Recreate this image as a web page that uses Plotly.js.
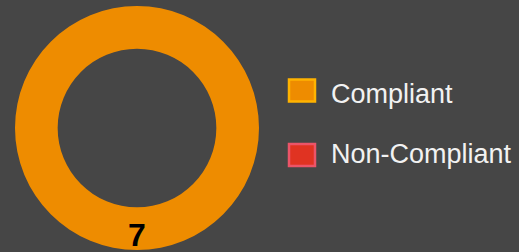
<!DOCTYPE html>
<html>
<head>
<meta charset="utf-8">
<script src="https://cdn.plot.ly/plotly-3.0.1.min.js"></script>
<style>
html,body{margin:0;padding:0;background:#464646;overflow:hidden;}
#chart{width:519px;height:252px;}
</style>
</head>
<body>
<div id="chart"></div>
<script>
const categories = ["Compliant", "Non-Compliant"];
const values = [7, 0];
const colors = ["#EE8C00", "#E03322"];
const borderColors = ["#FFB300", "#EC5468"];

const trace = {
  type: "pie",
  labels: categories,
  values: values,
  hole: 0.65,
  sort: false,
  direction: "clockwise",
  rotation: 0,
  marker: {colors: colors, line: {width: 0}},
  textinfo: "none",
  domain: {x: [15/519, 259/519], y: [2/252, 246/252]},
  showlegend: false,
  hoverinfo: "label+value"
};

const shapes = [];
const annotations = [];
const legendY = [90.5, 155];
categories.forEach((c, i) => {
  const cy = legendY[i];
  shapes.push({
    type: "rect", xref: "paper", yref: "paper",
    x0: 289/519, x1: 315/519,
    y0: 1 - (cy + 11)/252, y1: 1 - (cy - 11)/252,
    fillcolor: colors[i],
    line: {color: borderColors[i], width: 2.5}
  });
  annotations.push({
    xref: "paper", yref: "paper",
    x: 329/519, y: 1 - (i === 0 ? 93.5 : 153.5)/252,
    xanchor: "left", yanchor: "middle",
    text: c, showarrow: false,
    font: {family: "Liberation Sans, Arial, sans-serif", size: 27, color: "#F2F2F2"}
  });
});

// value label of the non-zero slice, at the bottom of the ring
values.forEach((v, i) => {
  if (v > 0 && v === values.reduce((a, b) => a + b, 0)) {
    annotations.push({
      xref: "paper", yref: "paper",
      x: 137/519, y: 1 - 235/252,
      xanchor: "center", yanchor: "middle",
      text: String(v), showarrow: false,
      font: {family: "Liberation Sans, Arial, sans-serif", size: 32, color: "#000000", weight: 700}
    });
  }
});

const layout = {
  width: 519, height: 252,
  margin: {l: 0, r: 0, t: 0, b: 0},
  paper_bgcolor: "#464646",
  plot_bgcolor: "#464646",
  showlegend: false,
  shapes: shapes,
  annotations: annotations
};

Plotly.newPlot("chart", [trace], layout, {displayModeBar: false, staticPlot: true});
</script>
</body>
</html>
